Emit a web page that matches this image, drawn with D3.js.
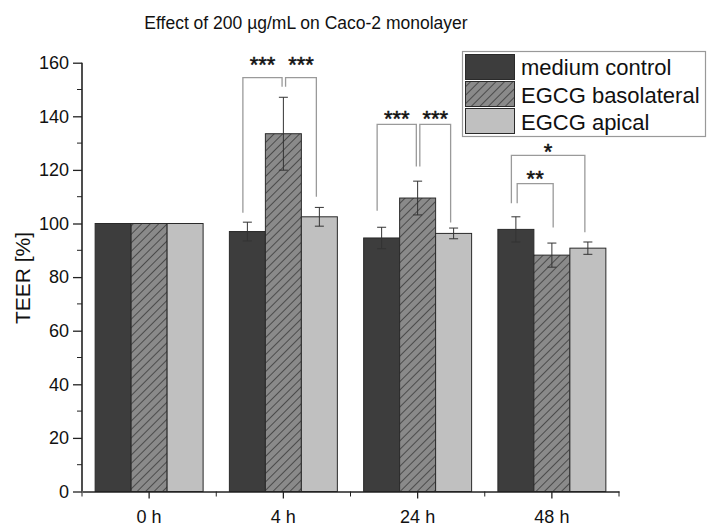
<!DOCTYPE html>
<html><head><meta charset="utf-8">
<script src="https://cdn.jsdelivr.net/npm/d3@7"></script>
<style>
html,body{margin:0;padding:0;background:#fff;}
text{font-family:"Liberation Sans",Arial,sans-serif;}
</style>
</head><body>
<svg id="chart" width="715" height="529"></svg>
<script>
// ---- data ----
const categories = ["0 h", "4 h", "24 h", "48 h"];
const seriesNames = ["medium control", "EGCG basolateral", "EGCG apical"];
const medium = [100, 97.0, 94.6, 97.8];
const mediumErr = [0, 3.5, 4.0, 4.7];
const basolateral = [100, 133.5, 109.5, 88.2];
const basolateralErr = [0, 13.6, 6.3, 4.5];
const apical = [100, 102.5, 96.3, 90.8];
const apicalErr = [0, 3.5, 2.0, 2.3];
const yTicks = [0, 20, 40, 60, 80, 100, 120, 140, 160];
const title = "Effect of 200 µg/mL on Caco-2 monolayer";
const yLabel = "TEER [%]";
// significance brackets: category, from series, to series, top value, left leg end, right leg end, label, label value
const bracketCat = ["4 h", "4 h", "24 h", "24 h", "48 h", "48 h"];
const bracketFrom = [0, 1, 0, 1, 0, 0];
const bracketTo = [1, 2, 1, 2, 1, 2];
const bracketTop = [154.4, 154.4, 137.0, 137.0, 114.9, 125.4];
const bracketLeftEnd = [104.0, 151.0, 104.8, 121.3, 107.6, 107.6];
const bracketRightEnd = [151.0, 110.0, 121.3, 100.4, 98.5, 96.7];
const bracketLabel = ["***", "***", "***", "***", "**", "*"];
const bracketLabelVal = [161.2, 161.2, 140.9, 140.9, 118.6, 128.6];

// ---- layout ----
const svg = d3.select("#chart");
const x0 = d3.scaleBand().domain(categories).range([82, 619]).paddingInner(0).paddingOuter(0);
const x1 = d3.scaleBand().domain(d3.range(seriesNames.length)).range([0, x0.bandwidth()]).paddingInner(0).paddingOuter(0.365);
const y = d3.scaleLinear().domain([0, 160]).range([491.5, 62.7]);

const values = [medium, basolateral, apical];
const errs = [mediumErr, basolateralErr, apicalErr];
const fills = ["#3d3d3d", "url(#hatch)", "#c0c0c0"];

// hatch pattern
const defs = svg.append("defs");
const pat = defs.append("pattern").attr("id", "hatch").attr("patternUnits", "userSpaceOnUse")
  .attr("width", 6).attr("height", 6).attr("patternTransform", "rotate(45)");
pat.append("rect").attr("width", 6).attr("height", 6).attr("fill", "#8a8a8a");
pat.append("line").attr("x1", 0).attr("y1", 0).attr("x2", 0).attr("y2", 6)
  .attr("stroke", "#3a3a3a").attr("stroke-width", 1.6);

// bars
const rows = [];
categories.forEach((c, i) => values.forEach((v, s) => rows.push({c, s, v: v[i], e: errs[s][i]})));
const g = svg.append("g");
g.selectAll("rect.bar").data(rows).join("rect").attr("class", "bar")
  .attr("x", d => x0(d.c) + x1(d.s))
  .attr("y", d => y(d.v))
  .attr("width", x1.bandwidth())
  .attr("height", d => y(0) - y(d.v))
  .attr("fill", d => fills[d.s])
  .attr("stroke", "#2a2a2a").attr("stroke-width", 1);

// error bars
const eb = g.selectAll("g.err").data(rows.filter(d => d.e > 0)).join("g").attr("class", "err")
  .attr("stroke", "#333").attr("stroke-width", 1);
const cx = d => x0(d.c) + x1(d.s) + x1.bandwidth() / 2;
eb.append("line").attr("x1", cx).attr("x2", cx).attr("y1", d => y(d.v + d.e)).attr("y2", d => y(d.v - d.e));
eb.append("line").attr("x1", d => cx(d) - 4.5).attr("x2", d => cx(d) + 4.5).attr("y1", d => y(d.v + d.e)).attr("y2", d => y(d.v + d.e));
eb.append("line").attr("x1", d => cx(d) - 4.5).attr("x2", d => cx(d) + 4.5).attr("y1", d => y(d.v - d.e)).attr("y2", d => y(d.v - d.e));

// brackets
const bg = svg.append("g");
bracketCat.forEach((c, i) => {
  const f = bracketFrom[i], t = bracketTo[i];
  const nested = bracketCat.some((c2, j) => j !== i && c2 === c && bracketFrom[j] === f && bracketTo[j] > t);
  let xl = x0(c) + x1(f) + x1.bandwidth() / 2 + (f === 1 ? 2.2 : (nested ? 1.3 : -4.5));
  let xr = x0(c) + x1(t) + x1.bandwidth() / 2 + (t === 1 && !nested ? -1.3 : (nested ? 1.3 : -3));
  const yt = y(bracketTop[i]);
  bg.append("path")
    .attr("d", `M${xl},${y(bracketLeftEnd[i])}V${yt}H${xr}V${y(bracketRightEnd[i])}`)
    .attr("fill", "none").attr("stroke", "#9a9a9a").attr("stroke-width", 1.3);
  bg.append("text").attr("x", (xl + xr) / 2).attr("y", y(bracketLabelVal[i]) + 12.5)
    .attr("text-anchor", "middle").attr("font-size", 22).attr("fill", "#111")
    .attr("stroke", "#111").attr("stroke-width", 0.5)
    .text(bracketLabel[i]);
});

// axes
const yAxis = svg.append("g").attr("transform", "translate(82,0)")
  .call(d3.axisLeft(y).tickValues(yTicks).tickSize(9).tickPadding(4));
yAxis.selectAll("text").attr("font-size", 18).attr("fill", "#111").style("font-family", "'Liberation Sans',Arial,sans-serif");
yAxis.append("g").selectAll("line").data(d3.range(10, 160, 20)).join("line")
  .attr("x1", -5).attr("x2", 0).attr("y1", d => y(d)).attr("y2", d => y(d)).attr("stroke", "#222");

const xAxis = svg.append("g").attr("transform", `translate(0,${y(0)})`)
  .call(d3.axisBottom(x0).tickSize(7).tickPadding(12).tickSizeOuter(0));
xAxis.selectAll("text").attr("font-size", 18).attr("fill", "#111").style("font-family", "'Liberation Sans',Arial,sans-serif");
xAxis.append("g").selectAll("line").data(d3.range(categories.length + 1)).join("line")
  .attr("x1", i => x0.range()[0] + i * x0.step()).attr("x2", i => x0.range()[0] + i * x0.step())
  .attr("y1", 0).attr("y2", 5).attr("stroke", "#222");

[yAxis, xAxis].forEach(a => {
  a.select(".domain").attr("stroke", "#222").attr("stroke-width", 1.6);
  a.selectAll(".tick line").attr("stroke", "#222").attr("stroke-width", 1.3);
});
yAxis.select(".domain").attr("d", `M0,${y(0)}V${y(160)}`);

// title & labels
svg.append("text").attr("x", 306).attr("y", 29).attr("text-anchor", "middle")
  .attr("font-size", 17.5).attr("fill", "#111").text(title);
svg.append("text").attr("transform", "translate(30,278) rotate(-90)").attr("text-anchor", "middle")
  .attr("font-size", 21).attr("fill", "#111").text(yLabel);

// legend
const lg = svg.append("g");
lg.append("rect").attr("x", 462.5).attr("y", 51.5).attr("width", 243).attr("height", 85)
  .attr("fill", "#fff").attr("stroke", "#999").attr("stroke-width", 1.2);
seriesNames.forEach((n, i) => {
  lg.append("rect").attr("x", 465.5).attr("y", 54.5 + i * 27).attr("width", 49).attr("height", 25)
    .attr("fill", fills[i]).attr("stroke", "#2a2a2a").attr("stroke-width", 1);
  lg.append("text").attr("x", 521).attr("y", 75 + i * 27.5).attr("font-size", 22).attr("fill", "#111").text(n);
});
</script>
</body></html>
